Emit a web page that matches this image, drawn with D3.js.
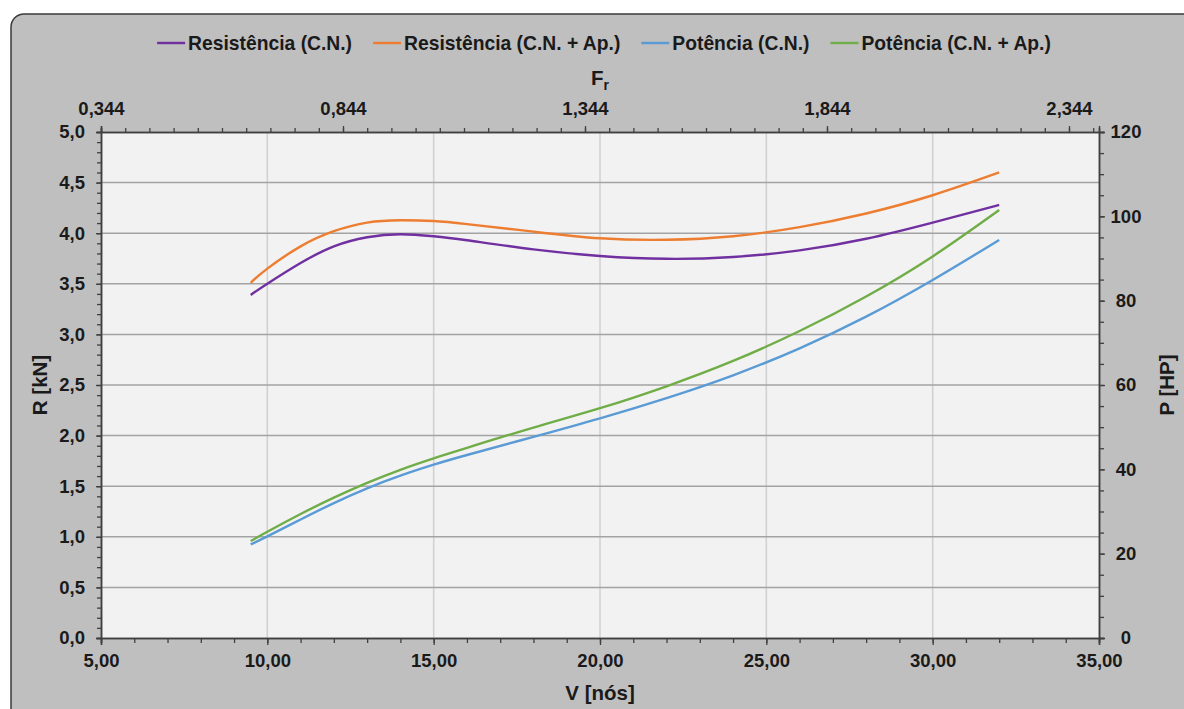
<!DOCTYPE html>
<html>
<head>
	<meta charset="utf-8">
	<title>Resistência e Potência</title>
	<style>
		body {
			margin: 0;
			background: #ffffff;
			font-family: 'Liberation Sans', Arial, sans-serif;
		}
		svg text {
			font-weight: bold;
			fill: #1a1a1a;
		}
	</style>
</head>
<body>
	<svg width="1184" height="709"></svg>
<script src="https://cdnjs.cloudflare.com/ajax/libs/d3/7.8.5/d3.min.js"></script>
<script>
	// speed (knots) and the four series
	let speeds = [9.5, 10, 11, 12, 13, 14, 15, 16, 18, 20, 22, 24, 26, 28, 30, 32]
	let resCN = [3.39, 3.50, 3.705, 3.87, 3.96, 3.99, 3.97, 3.93, 3.84, 3.775, 3.747, 3.765, 3.83, 3.945, 4.105, 4.28]
	let resAp = [3.51, 3.65, 3.87, 4.02, 4.105, 4.128, 4.12, 4.09, 4.015, 3.95, 3.935, 3.97, 4.06, 4.195, 4.375, 4.60]
	let potCN = [22.2, 24.1, 28.1, 32.0, 35.5, 38.5, 41.1, 43.4, 47.7, 52.1, 56.9, 62.3, 68.7, 76.2, 84.9, 94.4]
	let potAp = [23.0, 25.2, 29.4, 33.3, 36.8, 39.9, 42.6, 45.1, 49.9, 54.5, 59.7, 65.7, 72.8, 81.0, 90.5, 101.5]

	let seriesNames = ['Resistência (C.N.)', 'Resistência (C.N. + Ap.)', 'Potência (C.N.)', 'Potência (C.N. + Ap.)']
	let seriesColors = ['#7030a0', '#ed7d31', '#5b9bd5', '#70ad47']

	// axis ticks
	let vTicks = [5, 10, 15, 20, 25, 30, 35]
	let rTicks = [0, 0.5, 1, 1.5, 2, 2.5, 3, 3.5, 4, 4.5, 5]
	let pTicks = [0, 20, 40, 60, 80, 100, 120]
	let frTicks = [0.344, 0.844, 1.344, 1.844, 2.344]

	let svg = d3.select('svg')
	let loc = d3.formatLocale({decimal: ',', thousands: '.', grouping: [3], currency: ['', '']})

	let plotLeft = 101, plotRight = 1099, plotTop = 132, plotBottom = 638

	let x = d3.scaleLinear().domain([5, 35]).range([plotLeft, plotRight])
	let yR = d3.scaleLinear().domain([0, 5]).range([plotBottom, plotTop])
	let yP = d3.scaleLinear().domain([0, 120]).range([plotBottom, plotTop])
	let xFr = d3.scaleLinear().domain([0.344, 2.406]).range([plotLeft, plotRight])

	// chart frame
	svg.append('rect')
		.attr('x', 11).attr('y', 14)
		.attr('width', 1200).attr('height', 720)
		.attr('rx', 13).attr('ry', 13)
		.style('fill', '#bfbfbf')
		.style('stroke', '#3a3a3a')
		.style('stroke-width', 1.5)

	svg.append('rect')
		.attr('x', plotLeft).attr('y', plotTop)
		.attr('width', plotRight - plotLeft).attr('height', plotBottom - plotTop)
		.style('fill', '#f2f2f2')

	// grid
	svg.append('g')
		.selectAll('line')
		.data(vTicks.slice(1, -1))
		.join('line')
		.attr('x1', d => x(d)).attr('x2', d => x(d))
		.attr('y1', plotTop).attr('y2', plotBottom)
		.style('stroke', '#d0d0d0')
		.style('stroke-width', 1.5)

	svg.append('g')
		.selectAll('line')
		.data(rTicks.slice(1, -1))
		.join('line')
		.attr('x1', plotLeft).attr('x2', plotRight)
		.attr('y1', d => yR(d)).attr('y2', d => yR(d))
		.style('stroke', '#a3a3a3')
		.style('stroke-width', 1.5)

	// axes
	function styleAxis(g) {
		g.select('.domain').style('stroke', '#404040').style('stroke-width', 1.5)
		g.selectAll('.tick line').style('stroke', '#404040').style('stroke-width', 1.3)
		g.selectAll('text').style('font-size', '18.5px').style('font-family', "'Liberation Sans', Arial, sans-serif")
	}

	// minor ticks first
	svg.append('g').attr('transform', `translate(0,${plotBottom})`)
		.call(d3.axisBottom(x).tickValues(d3.range(5, 35.01, 1)).tickSize(5).tickFormat(''))
		.call(styleAxis)
	svg.append('g').attr('transform', `translate(${plotLeft},0)`)
		.call(d3.axisLeft(yR).tickValues(d3.range(0, 5.01, 0.1)).tickSize(4).tickFormat(''))
		.call(styleAxis)
	svg.append('g').attr('transform', `translate(${plotRight},0)`)
		.call(d3.axisRight(yP).tickValues(d3.range(0, 120.01, 5)).tickSize(5).tickFormat(''))
		.call(styleAxis)
	svg.append('g').attr('transform', `translate(0,${plotTop})`)
		.call(d3.axisTop(xFr).tickValues(d3.range(0.344, 2.406, 0.05)).tickSize(4).tickFormat(''))
		.call(styleAxis)

	let bottomAxis = svg.append('g').attr('transform', `translate(0,${plotBottom})`)
		.call(d3.axisBottom(x).tickValues(vTicks).tickSize(7).tickPadding(9).tickFormat(loc.format('.2f')))
		.call(styleAxis)

	let leftAxis = svg.append('g').attr('transform', `translate(${plotLeft},0)`)
		.call(d3.axisLeft(yR).tickValues(rTicks).tickSize(5).tickPadding(11).tickFormat(loc.format('.1f')))
		.call(styleAxis)

	let rightAxis = svg.append('g').attr('transform', `translate(${plotRight},0)`)
		.call(d3.axisRight(yP).tickValues(pTicks).tickSize(6).tickPadding(0).tickFormat(d3.format('d')))
		.call(styleAxis)
	rightAxis.selectAll('text').attr('text-anchor', 'middle').attr('x', 27)

	let topAxis = svg.append('g').attr('transform', `translate(0,${plotTop})`)
		.call(d3.axisTop(xFr).tickValues(frTicks).tickSize(6).tickPadding(11).tickFormat(loc.format('.3f')))
		.call(styleAxis)

	// axis titles
	svg.append('text')
		.attr('x', (plotLeft + plotRight) / 2).attr('y', 700)
		.attr('text-anchor', 'middle')
		.style('font-size', '20.5px')
		.text('V [nós]')

	let frTitle = svg.append('text')
		.attr('x', (plotLeft + plotRight) / 2).attr('y', 85)
		.attr('text-anchor', 'middle')
		.style('font-size', '20.5px')
	frTitle.append('tspan').text('F')
	frTitle.append('tspan').attr('dy', 5).style('font-size', '14px').text('r')

	svg.append('text')
		.attr('transform', `translate(47,${(plotTop + plotBottom) / 2}) rotate(-90)`)
		.attr('text-anchor', 'middle')
		.style('font-size', '20.5px')
		.text('R [kN]')

	svg.append('text')
		.attr('transform', `translate(1174,${(plotTop + plotBottom) / 2}) rotate(-90)`)
		.attr('text-anchor', 'middle')
		.style('font-size', '20.5px')
		.text('P [HP]')

	// lines
	let series = [
		{vals: resCN, y: yR},
		{vals: resAp, y: yR},
		{vals: potCN, y: yP},
		{vals: potAp, y: yP}
	]

	series.forEach((s, i) => {
		let line = d3.line()
			.x((d, j) => x(speeds[j]))
			.y(d => s.y(d))
			.curve(d3.curveNatural)

		svg.append('path')
			.datum(s.vals)
			.attr('d', line)
			.style('fill', 'none')
			.style('stroke', seriesColors[i])
			.style('stroke-width', 2.4)
	})

	// legend
	let legend = svg.append('g')
	let cursor = 0
	seriesNames.forEach((name, i) => {
		let item = legend.append('g').attr('transform', `translate(${cursor},0)`)
		item.append('line')
			.attr('x1', 0).attr('x2', 28)
			.attr('y1', 0).attr('y2', 0)
			.style('stroke', seriesColors[i])
			.style('stroke-width', 2.4)
		let t = item.append('text')
			.attr('x', 31).attr('y', 7)
			.style('font-size', '19.3px')
			.text(name)
		cursor += 31 + t.node().getComputedTextLength() + 21
	})
	let legendWidth = cursor - 21
	legend.attr('transform', `translate(${604 - legendWidth / 2},43)`)
</script>
</body>
</html>
